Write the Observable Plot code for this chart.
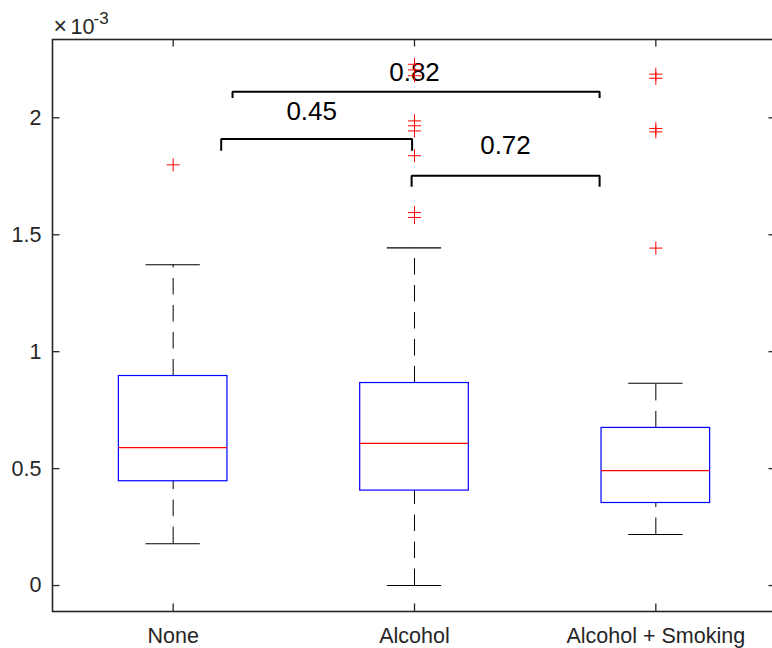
<!DOCTYPE html>
<html>
<head>
<meta charset="utf-8">
<script src="https://cdn.jsdelivr.net/npm/d3@7"></script>
<script src="https://cdn.jsdelivr.net/npm/@observablehq/plot@0.6"></script>
<style>
  html, body { margin: 0; padding: 0; background: #fff; overflow: hidden; }
  #chart { width: 772px; height: 648px; overflow: hidden; }
  #chart svg { max-width: none !important; overflow: hidden !important; }
</style>
</head>
<body>
<div id="chart"></div>
<script>
// Box-plot summary per group (values in raw units; axis shows ×10^-3)
const groups = ["None", "Alcohol", "Alcohol + Smoking"];
const lowerAdjacent = [0.179e-3, 0.000e-3, 0.218e-3];
const quartile1 = [0.446e-3, 0.406e-3, 0.353e-3];
const medians = [0.590e-3, 0.608e-3, 0.491e-3];
const quartile3 = [0.896e-3, 0.866e-3, 0.674e-3];
const upperAdjacent = [1.372e-3, 1.444e-3, 0.865e-3];

// Outliers per group
const outliersNone = [1.799e-3];
const outliersAlcohol = [1.574e-3, 1.595e-3, 1.838e-3, 1.944e-3, 1.966e-3, 1.987e-3, 2.180e-3, 2.205e-3, 2.229e-3];
const outliersSmoking = [1.443e-3, 1.940e-3, 1.954e-3, 2.169e-3, 2.187e-3];

const yTicks = [0, 0.5e-3, 1e-3, 1.5e-3, 2e-3];

// Pairwise comparison brackets with their p-values
const pValues = ["0.45", "0.82", "0.72"];
const bracketStart = [1.199, 1.246, 1.988];
const bracketEnd = [1.990, 2.767, 2.767];
const bracketTop = [1.909e-3, 2.112e-3, 1.752e-3];
const bracketFoot = [1.859e-3, 2.085e-3, 1.705e-3];
const pLabelX = [1.574, 2.0, 2.377];
const pLabelY = [2.026e-3, 2.194e-3, 1.880e-3];

// Layout: the plot area runs 4px past the right edge of the page,
// so the right spine falls outside the visible image
const W = 772, H = 648, ML = 52, MR = -4, MT = 39, MB = 37;
const innerW = W - ML - MR, innerH = H - MT - MB;
const boxHalf = 0.225, capHalf = 0.1125, tickLen = 7.5;
const axisColor = "#262626";

const stats = groups.map((g, i) => ({
  pos: i + 1,
  lower: lowerAdjacent[i],
  q1: quartile1[i],
  median: medians[i],
  q3: quartile3[i],
  upper: upperAdjacent[i]
}));

const outliers = [outliersNone, outliersAlcohol, outliersSmoking]
  .flatMap((vals, i) => vals.map(v => ({pos: i + 1, value: v})));

const brackets = pValues.flatMap((p, i) => [
  {k: i, x: bracketStart[i], y: bracketFoot[i]},
  {k: i, x: bracketStart[i], y: bracketTop[i]},
  {k: i, x: bracketEnd[i], y: bracketTop[i]},
  {k: i, x: bracketEnd[i], y: bracketFoot[i]}
]);

// Stroked "+" marker
const plusSymbol = {
  draw(context, size) {
    const h = Math.sqrt(size / Math.PI);
    context.moveTo(-h, 0); context.lineTo(h, 0);
    context.moveTo(0, -h); context.lineTo(0, h);
  }
};

const chart = Plot.plot({
  width: W, height: H,
  marginLeft: ML, marginRight: MR, marginTop: MT, marginBottom: MB,
  style: {
    fontFamily: "'Liberation Sans', Arial, Helvetica, sans-serif",
    fontSize: "21.5px",
    color: axisColor,
    background: "#fff",
    overflow: "hidden",
    maxWidth: "none"
  },
  x: {domain: [0.5, 3.5]},
  y: {domain: [-0.111e-3, 2.335e-3]},
  marks: [
    Plot.axisX([1, 2, 3], {tickSize: 0, tickPadding: 16, tickFormat: d => groups[d - 1], fontSize: 21.5, label: null}),
    Plot.axisY(yTicks, {tickSize: 0, tickPadding: 11, tickFormat: d => String(+(d * 1e3).toFixed(1)), fontSize: 21.5, label: null}),
    // inward ticks on all four sides
    Plot.ruleY(yTicks, {y: d => d, insetRight: innerW - tickLen, stroke: axisColor, strokeWidth: 1.3}),
    Plot.ruleY(yTicks, {y: d => d, insetLeft: innerW - tickLen, stroke: axisColor, strokeWidth: 1.3}),
    Plot.ruleX([1, 2, 3], {x: d => d, insetTop: innerH - tickLen, stroke: axisColor, strokeWidth: 1.3}),
    Plot.ruleX([1, 2, 3], {x: d => d, insetBottom: innerH - tickLen, stroke: axisColor, strokeWidth: 1.3}),
    Plot.frame({stroke: axisColor, strokeWidth: 1.6}),
    // exponent label
    Plot.text(["×"], {frameAnchor: "top-left", text: d => d, textAnchor: "start", lineAnchor: "bottom", dx: 1, dy: -6, fontSize: 23, fill: axisColor}),
    Plot.text(["10"], {frameAnchor: "top-left", text: d => d, textAnchor: "start", lineAnchor: "bottom", dx: 18, dy: -6, fontSize: 21.5, fill: axisColor}),
    Plot.text(["-3"], {frameAnchor: "top-left", text: d => d, textAnchor: "start", lineAnchor: "bottom", dx: 41, dy: -16, fontSize: 17, fill: axisColor}),
    // whiskers
    Plot.ruleX(stats, {x: "pos", y1: "q3", y2: "upper", stroke: "#000", strokeWidth: 1, strokeDasharray: "16.5,10.5"}),
    Plot.ruleX(stats, {x: "pos", y1: "lower", y2: "q1", stroke: "#000", strokeWidth: 1, strokeDasharray: "16.5,10.5"}),
    Plot.ruleY(stats, {y: "upper", x1: d => d.pos - capHalf, x2: d => d.pos + capHalf, stroke: "#000", strokeWidth: 1.1}),
    Plot.ruleY(stats, {y: "lower", x1: d => d.pos - capHalf, x2: d => d.pos + capHalf, stroke: "#000", strokeWidth: 1.1}),
    // boxes and medians
    Plot.rect(stats, {x1: d => d.pos - boxHalf, x2: d => d.pos + boxHalf, y1: "q1", y2: "q3", fill: "none", stroke: "#0000ff", strokeWidth: 1.2}),
    Plot.ruleY(stats, {y: "median", x1: d => d.pos - boxHalf, x2: d => d.pos + boxHalf, stroke: "#ff0000", strokeWidth: 1.2}),
    // comparison brackets
    Plot.line(brackets, {x: "x", y: "y", z: "k", stroke: "#000", strokeWidth: 2, strokeLinejoin: "miter", strokeLinecap: "butt"}),
    Plot.text(pValues, {x: (d, i) => pLabelX[i], y: (d, i) => pLabelY[i], text: d => d, fontSize: 26, fill: "#000"}),
    // outliers
    Plot.dot(outliers, {x: "pos", y: "value", symbol: plusSymbol, r: 6.5, stroke: "#ff0000", fill: "none", strokeWidth: 1})
  ]
});

document.getElementById("chart").append(chart);
</script>
</body>
</html>
